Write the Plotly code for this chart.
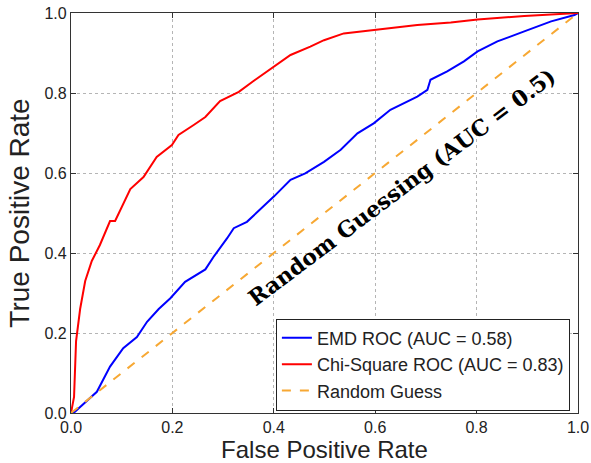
import plotly.graph_objects as go

# ---- data ----
emd_fpr = [0, 0.005, 0.051, 0.077, 0.103, 0.13, 0.15, 0.173, 0.196, 0.225, 0.265, 0.281, 0.308, 0.321,
           0.347, 0.40, 0.433, 0.462, 0.499, 0.532, 0.565, 0.597, 0.63, 0.683, 0.703, 0.709, 0.742,
           0.775, 0.802, 0.841, 0.894, 0.947, 0.993, 1.0]
emd_tpr = [0, 0, 0.053, 0.116, 0.162, 0.19, 0.228, 0.26, 0.287, 0.328, 0.359, 0.39, 0.437, 0.462,
           0.478, 0.541, 0.583, 0.599, 0.628, 0.658, 0.699, 0.724, 0.758, 0.791, 0.808, 0.833, 0.854,
           0.879, 0.904, 0.929, 0.954, 0.979, 0.995, 1.0]

chi_fpr = [0, 0.003, 0.006, 0.01, 0.018, 0.028, 0.041, 0.057, 0.07, 0.077, 0.087, 0.117, 0.143, 0.169,
           0.199, 0.212, 0.242, 0.265, 0.294, 0.321, 0.331, 0.36, 0.40, 0.433, 0.472, 0.499, 0.538,
           0.604, 0.683, 0.749, 0.802, 0.894, 0.96, 1.0]
chi_tpr = [0, 0.02, 0.04, 0.18, 0.26, 0.33, 0.38, 0.42, 0.46, 0.48, 0.48, 0.56, 0.59, 0.64,
           0.67, 0.695, 0.72, 0.74, 0.78, 0.797, 0.803, 0.83, 0.866, 0.895, 0.916, 0.932, 0.949,
           0.959, 0.97, 0.976, 0.984, 0.9925, 0.9975, 1.0]

rand_x = [0, 1]
rand_y = [0, 1]

tick_vals = [0.0, 0.2, 0.4, 0.6, 0.8, 1.0]
tick_text = ["0.0", "0.2", "0.4", "0.6", "0.8", "1.0"]

labels = ["EMD ROC (AUC = 0.58)", "Chi-Square ROC (AUC = 0.83)", "Random Guess"]
annotation_text = "<b>Random Guessing (AUC = 0.5)</b>"

fig = go.Figure()
fig.add_trace(go.Scatter(x=emd_fpr, y=emd_tpr, mode="lines", name=labels[0],
                         line=dict(color="#0000ff", width=2)))
fig.add_trace(go.Scatter(x=chi_fpr, y=chi_tpr, mode="lines", name=labels[1],
                         line=dict(color="#ff0000", width=2)))
fig.add_trace(go.Scatter(x=rand_x, y=rand_y, mode="lines", name=labels[2],
                         line=dict(color="#f7a833", width=2, dash="dash")))

font_sans = "Liberation Sans, Arial, Helvetica, sans-serif"
axis_common = dict(
    range=[0, 1], tickvals=tick_vals, ticktext=tick_text,
    showgrid=True, gridcolor="#b5b5b5", griddash="dot", gridwidth=1,
    showline=True, linecolor="#333333", linewidth=1.2, mirror="ticks",
    ticks="inside", ticklen=5, tickcolor="#333333", automargin=False,
    zeroline=False, tickfont=dict(family=font_sans, size=16, color="#222222"),
)
fig.update_xaxes(**axis_common, ticklabelstandoff=0,
                 title=dict(text="False Positive Rate", font=dict(family=font_sans, size=24, color="#222222"), standoff=2))
fig.update_yaxes(**axis_common,
                 title=dict(text="True Positive Rate", font=dict(family=font_sans, size=28, color="#222222"), standoff=6))

fig.add_annotation(x=0.652, y=0.565, xref="x", yref="y", text=annotation_text, showarrow=False,
                   textangle=-37, font=dict(family="DejaVu Serif, serif", size=22, color="black"))

fig.update_layout(
    width=591, height=463,
    margin=dict(l=71, r=13, t=13, b=50, autoexpand=False),
    plot_bgcolor="white", paper_bgcolor="white",
    showlegend=True,
    legend=dict(x=0.984, y=0.006, xanchor="right", yanchor="bottom",
                bgcolor="white", bordercolor="#222222", borderwidth=1,
                font=dict(family=font_sans, size=18, color="#222222")),
)

fig.write_html("out.html")
